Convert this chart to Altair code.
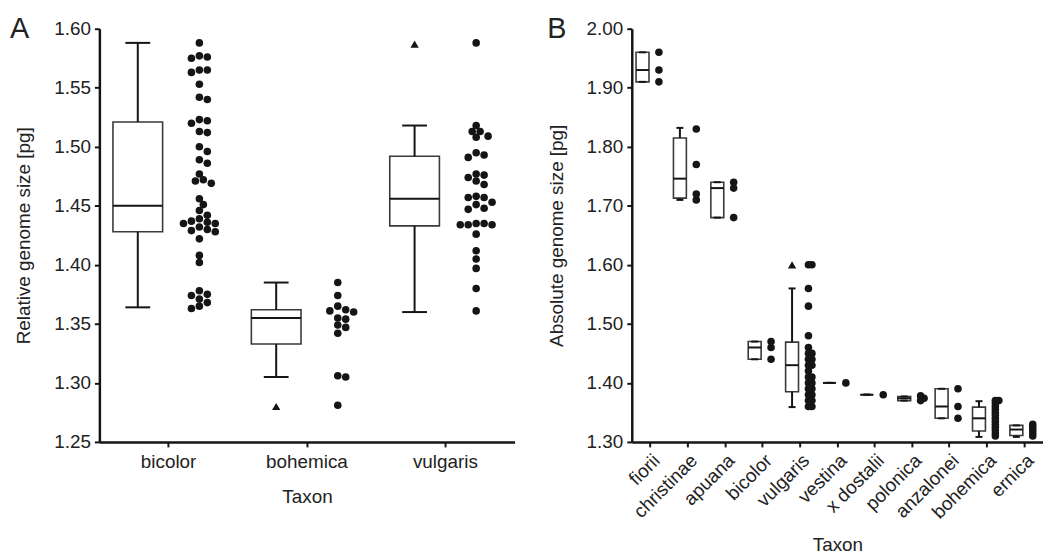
import altair as alt
import pandas as pd

FONT = "Liberation Sans"

# ---------------- Panel A data ----------------
taxa_A = ["bicolor", "bohemica", "vulgaris"]
A_wlo = [1.364, 1.305, 1.360]
A_q1 = [1.428, 1.333, 1.433]
A_med = [1.450, 1.355, 1.456]
A_q3 = [1.521, 1.362, 1.492]
A_whi = [1.588, 1.385, 1.518]
A_out_taxa = ["bohemica", "vulgaris"]
A_out_vals = [1.280, 1.587]

A_bicolor = [1.588, 1.577, 1.576, 1.575, 1.565, 1.565, 1.563, 1.553, 1.542, 1.540,
             1.523, 1.522, 1.520, 1.513, 1.512, 1.500, 1.496, 1.489, 1.486, 1.477,
             1.472, 1.471, 1.469, 1.456, 1.451, 1.446, 1.442, 1.439, 1.437, 1.436,
             1.435, 1.435, 1.432, 1.430, 1.429, 1.428, 1.422, 1.408, 1.402, 1.378,
             1.375, 1.374, 1.371, 1.368, 1.365, 1.363]
A_bohemica = [1.385, 1.374, 1.365, 1.362, 1.361, 1.360, 1.355, 1.354, 1.349, 1.347,
              1.342, 1.306, 1.305, 1.281]
A_vulgaris = [1.588, 1.518, 1.513, 1.513, 1.509, 1.508, 1.495, 1.493, 1.491, 1.477,
              1.476, 1.474, 1.471, 1.468, 1.458, 1.457, 1.457, 1.453, 1.451, 1.448,
              1.447, 1.435, 1.435, 1.434, 1.434, 1.434, 1.426, 1.412, 1.405, 1.397,
              1.380, 1.361]

# ---------------- Panel B data ----------------
taxa_B = ["fiorii", "christinae", "apuana", "bicolor", "vulgaris", "vestina",
          "x dostalii", "polonica", "anzalonei", "bohemica", "ernica"]
B_wlo = [1.910, 1.710, 1.680, 1.440, 1.359, 1.400, 1.380, 1.370, 1.340, 1.3085, 1.3085]
B_q1 = [1.910, 1.713, 1.680, 1.440, 1.385, 1.400, 1.380, 1.370, 1.340, 1.3185, 1.311]
B_med = [1.930, 1.746, 1.730, 1.460, 1.430, 1.400, 1.380, 1.374, 1.360, 1.340, 1.321]
B_q3 = [1.960, 1.815, 1.740, 1.470, 1.469, 1.400, 1.380, 1.377, 1.390, 1.359, 1.328]
B_whi = [1.960, 1.832, 1.740, 1.470, 1.560, 1.400, 1.380, 1.377, 1.390, 1.369, 1.328]
B_out_taxa = ["vulgaris"]
B_out_vals = [1.600]

B_points = {
    "fiorii": [1.96, 1.93, 1.91],
    "christinae": [1.83, 1.77, 1.72, 1.71],
    "apuana": [1.74, 1.73, 1.68],
    "bicolor": [1.47, 1.46, 1.44],
    "vulgaris": [1.60, 1.60, 1.56, 1.53, 1.48, 1.46, 1.45, 1.45, 1.44, 1.44, 1.43,
                 1.43, 1.42, 1.41, 1.41, 1.40, 1.40, 1.39, 1.39, 1.38, 1.38, 1.37,
                 1.37, 1.36, 1.36],
    "vestina": [1.40],
    "x dostalii": [1.38],
    "polonica": [1.378, 1.374, 1.370],
    "anzalonei": [1.39, 1.36, 1.34],
    "bohemica": [1.37, 1.37, 1.365, 1.36, 1.355, 1.35, 1.345, 1.34, 1.335, 1.33,
                 1.325, 1.32, 1.315, 1.31],
    "ernica": [1.33, 1.325, 1.32, 1.315, 1.31],
}

# ---------------- layout constants ----------------
WA, HA = 418, 416
WB, HB = 414, 416


def swarm(vals, px_per_unit, diam, step):
    placed, offs = [], []
    cands = [0]
    for k in range(1, 6):
        cands += [k * step, -k * step]
    for v in vals:
        y = v * px_per_unit
        chosen = cands[-1]
        for c in cands:
            if all((y - py) ** 2 + (c - px) ** 2 >= diam ** 2 for py, px in placed):
                chosen = c
                break
        placed.append((y, chosen))
        offs.append(chosen)
    return offs


def box_table(taxa, wlo, q1, med, q3, whi):
    return pd.DataFrame({"taxon": taxa, "wlo": wlo, "q1": q1, "med": med, "q3": q3, "whi": whi})


def pts_table(groups, band, shift, px_per_unit, diam, step):
    rows = []
    for t, vals in groups.items():
        offs = swarm(vals, px_per_unit, diam, step)
        for v, o in zip(vals, offs):
            rows.append({"taxon": t, "val": v, "jit": band / 2 + shift + o})
    return pd.DataFrame(rows)


def panel(taxa, box_df, pts_df, out_df, W, H, ydom, yvals, ytitle, letter, letter_x,
          box_w, cap_w, shift_box, label_angle, xlabpad, xtitlepad):
    xenc = alt.X("taxon:N", sort=taxa,
                 scale=alt.Scale(domain=taxa, paddingInner=0, paddingOuter=0),
                 axis=alt.Axis(title="Taxon", labelAngle=label_angle, labelPadding=xlabpad,
                               titlePadding=xtitlepad))
    yscale = alt.Scale(domain=ydom, nice=False, zero=False)
    yaxis = alt.Axis(title=ytitle, values=yvals, format=".2f", labelPadding=4, titlePadding=20)

    box = alt.Chart(box_df).mark_bar(size=box_w, fill="white", stroke="#3a3a3a",
                                     strokeWidth=1.6, xOffset=shift_box).encode(
        x=xenc, y=alt.Y("q1:Q", scale=yscale, axis=yaxis), y2="q3:Q")
    wl = alt.Chart(box_df).mark_rule(color="#151515", strokeWidth=2, xOffset=shift_box).encode(
        x=xenc, y=alt.Y("wlo:Q", scale=yscale, axis=yaxis), y2="q1:Q")
    wh = alt.Chart(box_df).mark_rule(color="#151515", strokeWidth=2, xOffset=shift_box).encode(
        x=xenc, y=alt.Y("q3:Q", scale=yscale, axis=yaxis), y2="whi:Q")
    caplo = alt.Chart(box_df).mark_tick(size=cap_w, thickness=2, color="#151515", opacity=1,
                                        xOffset=shift_box).encode(
        x=xenc, y=alt.Y("wlo:Q", scale=yscale, axis=yaxis))
    caphi = alt.Chart(box_df).mark_tick(size=cap_w, thickness=2, color="#151515", opacity=1,
                                        xOffset=shift_box).encode(
        x=xenc, y=alt.Y("whi:Q", scale=yscale, axis=yaxis))
    med = alt.Chart(box_df).mark_tick(size=box_w, thickness=2, color="#151515", opacity=1,
                                      xOffset=shift_box).encode(
        x=xenc, y=alt.Y("med:Q", scale=yscale, axis=yaxis))
    outl = alt.Chart(out_df).mark_point(shape="triangle-up", filled=True, size=70,
                                        color="#151515", opacity=1, xOffset=shift_box).encode(
        x=xenc, y=alt.Y("val:Q", scale=yscale, axis=yaxis))
    pts = alt.Chart(pts_df).mark_circle(size=58, color="#151515", opacity=1).encode(
        x=xenc, xOffset=alt.XOffset("jit:Q", scale=None),
        y=alt.Y("val:Q", scale=yscale, axis=yaxis))
    lab = alt.Chart(pd.DataFrame({"t": [letter]})).mark_text(
        fontSize=29, font=FONT, color="#222", align="left", baseline="alphabetic").encode(
        text="t:N", x=alt.value(letter_x), y=alt.value(9))
    return alt.layer(box, wl, wh, caplo, caphi, med, outl, pts, lab).properties(width=W, height=H)


boxA = box_table(taxa_A, A_wlo, A_q1, A_med, A_q3, A_whi)
outA = pd.DataFrame({"taxon": A_out_taxa, "val": A_out_vals})
ptsA = pts_table({"bicolor": A_bicolor, "bohemica": A_bohemica, "vulgaris": A_vulgaris},
                 WA / len(taxa_A), 31, HA / 0.35, 7.0, 4.0)

boxB = box_table(taxa_B, B_wlo, B_q1, B_med, B_q3, B_whi)
outB = pd.DataFrame({"taxon": B_out_taxa, "val": B_out_vals})
ptsB = pts_table(B_points, WB / len(taxa_B), 8.5, HB / 0.70, 2.5, 3.5)

yvals_A = [1.25, 1.30, 1.35, 1.40, 1.45, 1.50, 1.55, 1.60]
yvals_B = [1.30, 1.40, 1.50, 1.60, 1.70, 1.80, 1.90, 2.00]

pA = panel(taxa_A, boxA, ptsA, outA, WA, HA, [1.25, 1.60], yvals_A,
           "Relative genome size [pg]", "A", -90, 50, 25, -31, 0, 6, 16)
pB = panel(taxa_B, boxB, ptsB, outB, WB, HB, [1.30, 2.00], yvals_B,
           "Absolute genome size [pg]", "B", -85, 13, 7, -8, -45, 4, 14)

chart = alt.hconcat(pA, pB, spacing=33).properties(
    padding={"left": 2, "top": 5, "right": 0, "bottom": 0},
    background="white",
).configure_view(stroke=None).configure_axis(
    grid=False, domainColor="#151515", domainWidth=2.5, tickColor="#151515", tickWidth=2,
    tickSize=5, labelFont=FONT, labelFontSize=19, labelColor="#222", titleFont=FONT,
    titleFontSize=19, titleFontWeight="normal", titleColor="#222"
)

chart.save("out.html", embed_options={"renderer": "svg", "actions": False})
